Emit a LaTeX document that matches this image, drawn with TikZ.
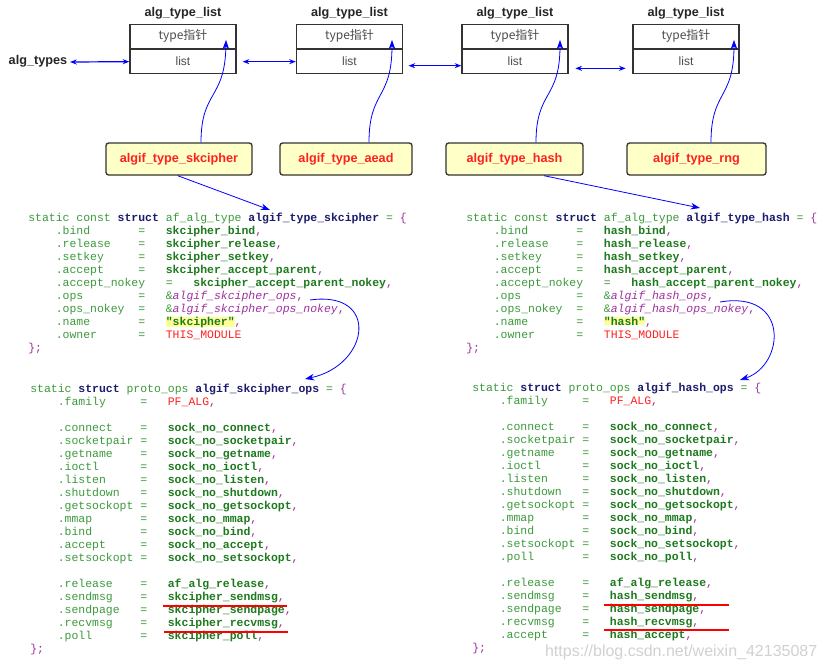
\documentclass[tikz,border=0pt]{standalone}
\usepackage{fontspec}
\usepackage{xcolor}
\usetikzlibrary{arrows.meta}
\setmainfont{Liberation Sans}
\setmonofont{Liberation Mono}
\newfontfamily\cjk{Noto Sans CJK SC}
\definecolor{cF}{HTML}{3C9A3C}
\definecolor{cV}{HTML}{1E7A1E}
\definecolor{cK}{HTML}{1C1C6E}
\definecolor{cP}{HTML}{A030A0}
\definecolor{cR}{HTML}{FF2020}
\definecolor{cY}{HTML}{FFFFC8}
\definecolor{cH}{HTML}{FFFF99}
\newlength\cw
\newcommand\Sk[1]{\hspace*{#1\cw}}
\newcommand\F[1]{\textcolor{cF}{#1}}
\newcommand\V[1]{\textcolor{cV}{\bfseries #1}}
\newcommand\K[1]{\textcolor{cK}{\bfseries #1}}
\newcommand\Cm{\textcolor{cP}{,}}
\newcommand\Am[1]{\F{\&}\textcolor{cP}{\itshape #1}}
\newcommand\Fl[2]{\Sk{4}\makebox[12\cw][l]{\F{#1}}\F{=}\Sk{3}#2}
\tikzset{
  cell/.style={draw=black!80,line width=1pt,minimum width=79.5pt, minimum height=18pt,inner sep=0pt,font=\cjk\fontsize{9}{10}\selectfont,text=black!70},
  ttl/.style={font=\bfseries\fontsize{9.5}{11}\selectfont,text=black!85},
  yb/.style={draw=black!80,line width=1pt,rounded corners=2pt,fill=cY,text=cR,font=\bfseries\fontsize{9.5}{11}\selectfont,minimum height=24pt,inner sep=0pt},
  dbl/.style={{Stealth[length=5pt]}-{Stealth[length=5pt]},blue,line width=0.9pt},
  ptr/.style={-{Stealth[length=7pt,width=5pt]},blue,line width=0.6pt},
  code/.style={font=\ttfamily\fontsize{8.6}{9.75}\selectfont\setlength\cw{0.6em},align=left,inner sep=0pt,anchor=base west},
  ul/.style={red,line width=0.8pt}
}
\begin{document}
\begin{tikzpicture}[x=0.75pt,y=-0.75pt]
\useasboundingbox[fill=white] (0,0) rectangle (829,669);
% list boxes
\foreach \n/\x in {a/183,b/349.5,c/515,d/686}{
  \node[cell,anchor=south] (\n t) at (\x,49) {type指针};
  \node[cell,anchor=north] (\n l) at (\x,49) {\fontspec{Liberation Sans}list};
  \node[ttl,anchor=south] (\n h) at (\x,24) {alg\_type\_list};
}
\node[ttl,anchor=west] (types) at (4,61) {alg\_types};
\coordinate (t1) at (70,62);
\draw[dbl] (t1) -- (al.west);
\draw[dbl] ([xshift=4.5pt]al.east) -- (bl.west);
\draw[dbl] ([xshift=4pt,yshift=-3pt]bl.east) -- ([yshift=-3pt]cl.west);
\draw[dbl] ([xshift=5pt,yshift=-5pt]cl.east) -- ([xshift=-5pt,yshift=-5pt]dl.west);
% yellow labels
\node[yb,minimum width=109.5pt] (ys) at (179,159) {algif\_type\_skcipher};
\node[yb,minimum width=99pt] (ya) at (346,159) {algif\_type\_aead};
\node[yb,minimum width=102.75pt] (yh) at (514.5,159) {algif\_type\_hash};
\node[yb,minimum width=104.25pt] (yr) at (696.5,159) {algif\_type\_rng};
\coordinate (ea) at (226,40); \coordinate (eb) at (392,40);
\coordinate (ec) at (560,40); \coordinate (ed) at (734,40);
\draw[ptr] (ys.north -| 201,0) .. controls (201,90) and (225,100) .. (ea);
\draw[ptr] (ya.north -| 369,0) .. controls (369,90) and (392,100) .. (eb);
\draw[ptr] (yh.north -| 536,0) .. controls (536,90) and (560,100) .. (ec);
\draw[ptr] (yr.north -| 711,0) .. controls (711,90) and (734,100) .. (ed);
% code left
\node[code] (c1) at (28,351) {%
\F{static\ const\ }\K{struct}\F{\ af\_alg\_type\ }\K{algif\_type\_skcipher}\F{\ =\ }\textcolor{cP}{\{}\\
\Fl{.bind}{\V{skcipher\_bind}\Cm}\\
\Fl{.release}{\V{skcipher\_release}\Cm}\\
\Fl{.setkey}{\V{skcipher\_setkey}\Cm}\\
\Fl{.accept}{\V{skcipher\_accept\_parent}\Cm}\\
\Sk{4}\F{.accept\_nokey}\Sk{3}\F{=}\Sk{3}\V{skcipher\_accept\_parent\_nokey}\Cm\\
\Fl{.ops}{\Am{algif\_skcipher\_ops}\Cm}\\
\Fl{.ops\_nokey}{\Am{algif\_skcipher\_ops\_nokey}\Cm}\\
\Fl{.name}{{\fboxsep=0pt\colorbox{cH}{\V{"skcipher"}}}\Cm}\\
\Fl{.owner}{\textcolor{cR}{THIS\_MODULE}}\\
\textcolor{cP}{\};}};
\node[code] (c2) at (30,652) {%
\F{static\ }\K{struct}\F{\ proto\_ops\ }\K{algif\_skcipher\_ops}\F{\ =\ }\textcolor{cP}{\{}\\
\Fl{.family}{\textcolor{cR}{PF\_ALG}\Cm}\\[9.75pt]
\Fl{.connect}{\V{sock\_no\_connect}\Cm}\\
\Fl{.socketpair}{\V{sock\_no\_socketpair}\Cm}\\
\Fl{.getname}{\V{sock\_no\_getname}\Cm}\\
\Fl{.ioctl}{\V{sock\_no\_ioctl}\Cm}\\
\Fl{.listen}{\V{sock\_no\_listen}\Cm}\\
\Fl{.shutdown}{\V{sock\_no\_shutdown}\Cm}\\
\Fl{.getsockopt}{\V{sock\_no\_getsockopt}\Cm}\\
\Fl{.mmap}{\V{sock\_no\_mmap}\Cm}\\
\Fl{.bind}{\V{sock\_no\_bind}\Cm}\\
\Fl{.accept}{\V{sock\_no\_accept}\Cm}\\
\Fl{.setsockopt}{\V{sock\_no\_setsockopt}\Cm}\\[9.75pt]
\Fl{.release}{\V{af\_alg\_release}\Cm}\\
\Fl{.sendmsg}{\V{skcipher\_sendmsg}\Cm}\\
\Fl{.sendpage}{\V{skcipher\_sendpage}\Cm}\\
\Fl{.recvmsg}{\V{skcipher\_recvmsg}\Cm}\\
\Fl{.poll}{\V{skcipher\_poll}\Cm}\\
\textcolor{cP}{\};}};
% code right
\node[code] (c3) at (466,351) {%
\F{static\ const\ }\K{struct}\F{\ af\_alg\_type\ }\K{algif\_type\_hash}\F{\ =\ }\textcolor{cP}{\{}\\
\Fl{.bind}{\V{hash\_bind}\Cm}\\
\Fl{.release}{\V{hash\_release}\Cm}\\
\Fl{.setkey}{\V{hash\_setkey}\Cm}\\
\Fl{.accept}{\V{hash\_accept\_parent}\Cm}\\
\Sk{4}\F{.accept\_nokey}\Sk{3}\F{=}\Sk{3}\V{hash\_accept\_parent\_nokey}\Cm\\
\Fl{.ops}{\Am{algif\_hash\_ops}\Cm}\\
\Fl{.ops\_nokey}{\Am{algif\_hash\_ops\_nokey}\Cm}\\
\Fl{.name}{{\fboxsep=0pt\colorbox{cH}{\V{"hash"}}}\Cm}\\
\Fl{.owner}{\textcolor{cR}{THIS\_MODULE}}\\
\textcolor{cP}{\};}};
\node[code] (c4) at (472,651) {%
\F{static\ }\K{struct}\F{\ proto\_ops\ }\K{algif\_hash\_ops}\F{\ =\ }\textcolor{cP}{\{}\\
\Fl{.family}{\textcolor{cR}{PF\_ALG}\Cm}\\[9.75pt]
\Fl{.connect}{\V{sock\_no\_connect}\Cm}\\
\Fl{.socketpair}{\V{sock\_no\_socketpair}\Cm}\\
\Fl{.getname}{\V{sock\_no\_getname}\Cm}\\
\Fl{.ioctl}{\V{sock\_no\_ioctl}\Cm}\\
\Fl{.listen}{\V{sock\_no\_listen}\Cm}\\
\Fl{.shutdown}{\V{sock\_no\_shutdown}\Cm}\\
\Fl{.getsockopt}{\V{sock\_no\_getsockopt}\Cm}\\
\Fl{.mmap}{\V{sock\_no\_mmap}\Cm}\\
\Fl{.bind}{\V{sock\_no\_bind}\Cm}\\
\Fl{.setsockopt}{\V{sock\_no\_setsockopt}\Cm}\\
\Fl{.poll}{\V{sock\_no\_poll}\Cm}\\[9.75pt]
\Fl{.release}{\V{af\_alg\_release}\Cm}\\
\Fl{.sendmsg}{\V{hash\_sendmsg}\Cm}\\
\Fl{.sendpage}{\V{hash\_sendpage}\Cm}\\
\Fl{.recvmsg}{\V{hash\_recvmsg}\Cm}\\
\Fl{.accept}{\V{hash\_accept}\Cm}\\
\textcolor{cP}{\};}};
% pointers to structs
\coordinate (s1) at (270,210); \coordinate (s2) at (700,208);
\draw[ptr] ([xshift=-1pt]ys.south) -- (s1);
\draw[ptr] ([xshift=22pt]yh.south) -- (s2);
\coordinate (o1) at (310,300); \coordinate (p1) at (305,379);
\coordinate (o2) at (720,302); \coordinate (p2) at (740,380);
\draw[ptr] (o1) .. controls (380,290) and (370,365) .. (p1);
\draw[ptr] (o2) .. controls (790,290) and (785,365) .. (p2);
% underlines
\coordinate (u1a) at (163,606); \coordinate (u1b) at (287,606);
\coordinate (u2a) at (164,632); \coordinate (u2b) at (288,632);
\coordinate (u3a) at (604,605); \coordinate (u3b) at (729,605);
\coordinate (u4a) at (604,630); \coordinate (u4b) at (729,630);
\draw[ul] (u1a) -- (u1b); \draw[ul] (u2a) -- (u2b);
\draw[ul] (u3a) -- (u3b); \draw[ul] (u4a) -- (u4b);
\node[anchor=base east,text=black!18,font=\fontsize{12}{12}\selectfont] (wm) at (822,656) {https://blog.csdn.net/weixin\_42135087};
\end{tikzpicture}
\end{document}
